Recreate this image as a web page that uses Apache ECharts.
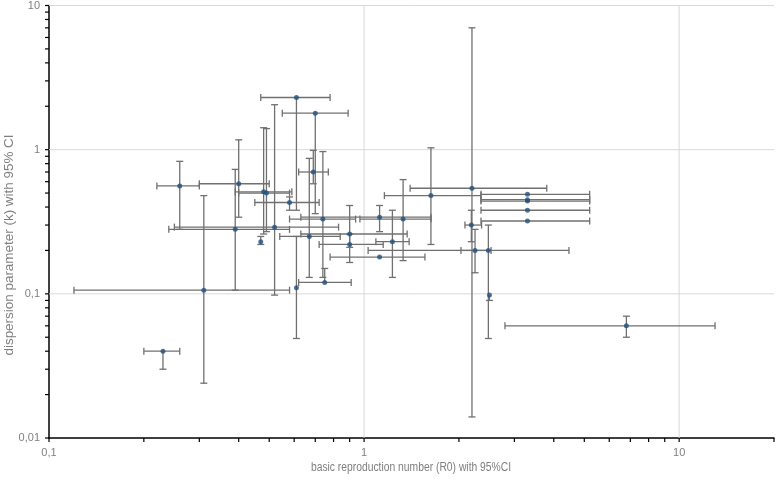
<!DOCTYPE html>
<html lang="en">
<head>
    <meta charset="UTF-8">
    <title>R0 vs k</title>
    <script src="https://cdn.jsdelivr.net/npm/echarts@6/dist/echarts.min.js"></script>
    <style>html,body{margin:0;padding:0;background:#fff;}</style>
</head>
<body>
<div id="main" style="width:777px;height:479px;"></div>
<script type="text/javascript">
    // basic reproduction number R0 with 95% CI (null = no bar on that side)
    var r0   = [0.23, 0.31, 0.26, 0.40, 0.48, 0.49, 0.58, 0.47, 0.39, 0.52, 0.61, 0.70, 0.69, 0.67, 0.74, 0.75, 0.61, 0.90, 0.90, 1.12, 1.12, 1.23, 1.33, 1.63, 2.2, 2.19, 2.25, 2.48, 2.5, 3.3, 3.3, 3.3, 3.3, 3.3, 6.8];
    var r0Lo = [0.20, 0.12, 0.22, 0.30, 0.39, 0.40, 0.45, null, 0.24, 0.25, 0.47, 0.55, 0.62, 0.54, 0.58, 0.62, null, 0.63, 0.72, 0.78, 0.63, 1.09, 0.97, 1.16, 1.4, 2.09, 2.03, 1.03, null, 2.35, 2.35, 2.35, 2.35, 2.35, 2.8];
    var r0Hi = [0.26, 0.58, 0.30, 0.50, 0.59, 0.58, 0.72, null, 0.58, 0.83, 0.78, 0.89, 0.77, 0.84, 0.94, 0.91, null, 1.37, 1.15, 1.56, 1.63, 1.39, 1.63, 2.35, 3.8, 2.36, 2.53, 4.47, null, 5.2, 5.2, 5.2, 5.2, 5.2, 13];
    // dispersion parameter k with 95% CI
    var k    = [0.04, 0.106, 0.56, 0.58, 0.51, 0.50, 0.43, 0.23, 0.28, 0.29, 2.3, 1.79, 0.70, 0.25, 0.33, 0.12, 0.11, 0.26, 0.22, 0.18, 0.34, 0.23, 0.33, 0.48, 0.54, 0.30, 0.20, 0.20, 0.098, 0.49, 0.45, 0.44, 0.38, 0.32, 0.06];
    var kLo  = [0.03, 0.024, 0.28, 0.34, 0.26, 0.27, 0.38, 0.22, 0.106, 0.098, 0.38, 0.36, 0.58, 0.13, 0.13, null, 0.049, 0.21, 0.165, null, 0.27, 0.13, 0.17, 0.22, 0.014, 0.23, 0.14, 0.049, 0.09, null, null, null, null, null, 0.05];
    var kHi  = [null, 0.48, 0.83, 1.17, 1.42, 1.40, 0.47, 0.25, 0.73, 2.05, null, null, 0.99, 0.87, 0.97, 0.15, 0.25, 0.41, 0.26, null, 0.41, 0.38, 0.62, 1.03, 7.0, 0.38, 0.28, 0.30, null, null, null, null, null, null, 0.07];

    // axis decorations
    var xGrid = [1, 10];
    var yGrid = [0.1, 1, 10];
    var xDecades = [0.1, 1, 10];
    var yDecades = [0.01, 0.1, 1];
    var xMin = 0.1, xMax = 20, yMin = 0.01, yMax = 10;

    var myChart = echarts.init(document.getElementById('main'));

    var points = [];
    for (var i = 0; i < r0.length; i++) points.push([r0[i], k[i]]);

    function commaFmt(v) {
        var l = Math.log(v) / Math.LN10;
        if (Math.abs(l - Math.round(l)) > 1e-6) return '';
        return String(+v.toPrecision(6)).replace('.', ',');
    }

    function errorBars(params, api) {
        var i = params.dataIndex;
        var c = api.coord([r0[i], k[i]]);
        var cap = 3.5;
        var st = { stroke: '#707070', lineWidth: 1.3, fill: null };
        var kids = [];
        function seg(x1, y1, x2, y2) {
            kids.push({ type: 'line', shape: { x1: x1, y1: y1, x2: x2, y2: y2 }, style: st });
        }
        if (r0Lo[i] != null || r0Hi[i] != null) {
            var a = r0Lo[i] != null ? api.coord([r0Lo[i], k[i]])[0] : c[0];
            var b = r0Hi[i] != null ? api.coord([r0Hi[i], k[i]])[0] : c[0];
            seg(a, c[1], b, c[1]);
            if (r0Lo[i] != null) seg(a, c[1] - cap, a, c[1] + cap);
            if (r0Hi[i] != null) seg(b, c[1] - cap, b, c[1] + cap);
        }
        if (kLo[i] != null || kHi[i] != null) {
            var lo = kLo[i] != null ? api.coord([r0[i], kLo[i]])[1] : c[1];
            var hi = kHi[i] != null ? api.coord([r0[i], kHi[i]])[1] : c[1];
            seg(c[0], lo, c[0], hi);
            if (kLo[i] != null) seg(c[0] - cap, lo, c[0] + cap, lo);
            if (kHi[i] != null) seg(c[0] - cap, hi, c[0] + cap, hi);
        }
        return { type: 'group', children: kids };
    }

    // gridlines + log ticks drawn through the axes' own scales
    function decorations(params, api) {
        var kids = [];
        var o = api.coord([xMin, yMin]);
        var e = api.coord([xMax, yMax]);
        var grid = { stroke: '#d9d9d9', lineWidth: 1 };
        var tick = { stroke: '#000', lineWidth: 1.2 };
        xGrid.forEach(function (v) {
            var p = api.coord([v, yMin]);
            kids.push({ type: 'line', shape: { x1: p[0], y1: o[1], x2: p[0], y2: e[1] }, style: grid });
        });
        yGrid.forEach(function (v) {
            var p = api.coord([xMin, v]);
            kids.push({ type: 'line', shape: { x1: o[0], y1: p[1], x2: e[0], y2: p[1] }, style: grid });
        });
        xDecades.forEach(function (d) {
            for (var m = 1; m <= 9; m++) {
                var v = m * d;
                if (v > xMax * 1.0001) continue;
                var p = api.coord([v, yMin]);
                kids.push({ type: 'line', shape: { x1: p[0], y1: o[1], x2: p[0], y2: o[1] + 4 }, style: tick });
            }
        });
        yDecades.forEach(function (d) {
            for (var m = 1; m <= 9; m++) {
                var p = api.coord([xMin, m * d]);
                kids.push({ type: 'line', shape: { x1: o[0] - 4, y1: p[1], x2: o[0], y2: p[1] }, style: tick });
            }
        });
        var pt = api.coord([xMin, yMax]);
        kids.push({ type: 'line', shape: { x1: o[0] - 4, y1: pt[1], x2: o[0], y2: pt[1] }, style: tick });
        return { type: 'group', children: kids };
    }

    var option = {
        animation: false,
        textStyle: { fontFamily: 'Liberation Sans, Arial, sans-serif' },
        grid: { left: 49, right: 2, top: 5, bottom: 41, containLabel: false },
        // axis titles (the source image has them squeezed / stretched)
        graphic: [{
            type: 'text', x: 10, y: 245, rotation: Math.PI / 2, scaleX: 1.12,
            style: {
                text: 'dispersion parameter (k) with 95% CI', fill: '#7f7f7f',
                font: '12px "Liberation Sans", Arial, sans-serif',
                align: 'center', verticalAlign: 'middle'
            }
        }, {
            type: 'text', x: 411, y: 468, scaleX: 0.86,
            style: {
                text: 'basic reproduction number (R0) with 95%CI', fill: '#7f7f7f',
                font: '12px "Liberation Sans", Arial, sans-serif',
                align: 'center', verticalAlign: 'middle'
            }
        }],
        xAxis: {
            type: 'log', logBase: 10, min: xMin, max: xMax,
            axisLine: { lineStyle: { color: '#000', width: 1.5 } },
            axisTick: { show: false },
            splitLine: { show: false },
            axisLabel: { formatter: commaFmt, color: '#7f7f7f', fontSize: 11, margin: 9, showMaxLabel: true }
        },
        yAxis: {
            type: 'log', logBase: 10, min: yMin, max: yMax,
            axisLine: { show: true, lineStyle: { color: '#000', width: 1.5 } },
            axisTick: { show: false },
            splitLine: { show: false },
            axisLabel: { formatter: commaFmt, color: '#7f7f7f', fontSize: 11, margin: 9 }
        },
        series: [
            {
                type: 'custom', name: 'axes', silent: true, z: 1, clip: false,
                renderItem: decorations, data: [[xMin, yMin]]
            },
            {
                type: 'custom', name: 'CI', silent: true, z: 2,
                renderItem: errorBars, data: points
            },
            {
                type: 'scatter', name: 'estimate', z: 3,
                symbol: 'circle', symbolSize: 5,
                itemStyle: { color: '#24507e' },
                data: points
            }
        ]
    };
    myChart.setOption(option);
</script>
</body>
</html>
